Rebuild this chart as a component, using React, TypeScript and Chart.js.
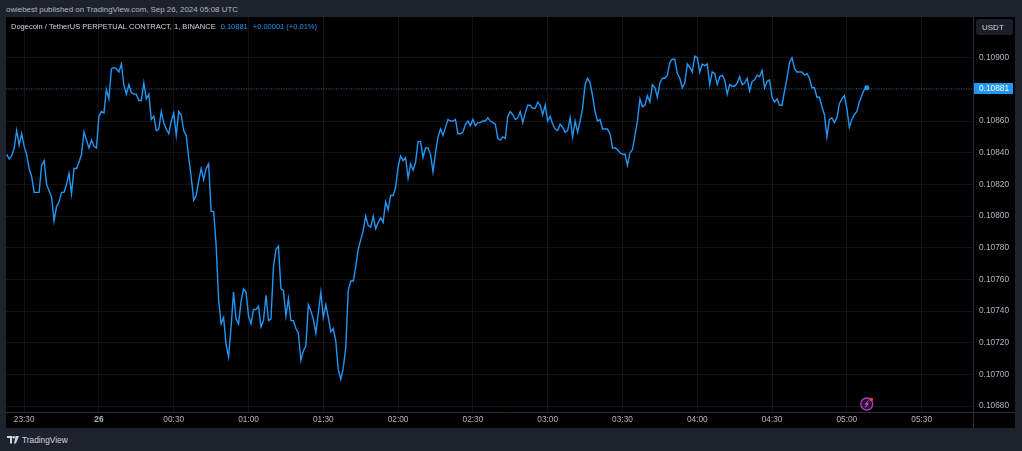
import { useEffect, useRef } from "react"
import { Chart, registerables } from "chart.js"

Chart.register(...registerables)

// 1-minute closes, DOGE/USDT perpetual, starting 23:23 UTC
const startTime = "23:23"
const prices = [
  0.10839, 0.10836, 0.10838, 0.10843, 0.10854, 0.10845, 0.10852, 0.10844, 0.10839, 0.1083,
  0.10825, 0.10815, 0.10815, 0.10815, 0.10832, 0.10835, 0.1082, 0.10816, 0.10812, 0.10797,
  0.10806, 0.10809, 0.10815, 0.10815, 0.1082, 0.10827, 0.10814, 0.1083, 0.1083, 0.10834,
  0.10839, 0.10853, 0.10848, 0.10843, 0.10848, 0.10844, 0.10843, 0.10863, 0.10866, 0.10865,
  0.1088, 0.10874, 0.10893, 0.10894, 0.10893, 0.10891, 0.10896, 0.10883, 0.10877, 0.10883,
  0.10878, 0.10877, 0.10877, 0.10873, 0.10873, 0.10884, 0.10874, 0.10877, 0.10861, 0.10863,
  0.10854, 0.10855, 0.10866, 0.10859, 0.10855, 0.10852, 0.1086, 0.10865, 0.10851, 0.10866,
  0.10864, 0.10854, 0.10851, 0.10837, 0.10825, 0.1081, 0.10813, 0.10822, 0.1083, 0.10823,
  0.1083, 0.10833, 0.10803, 0.10803, 0.10782, 0.10747, 0.10732, 0.10736, 0.10719, 0.10711,
  0.1073, 0.10752, 0.10735, 0.10732, 0.10746, 0.10754, 0.10752, 0.10737, 0.10732, 0.10741,
  0.10741, 0.10743, 0.1073, 0.10734, 0.1075, 0.10734, 0.10735, 0.10768, 0.10779, 0.10781,
  0.10754, 0.10753, 0.10737, 0.10748, 0.10734, 0.10734, 0.10729, 0.10726, 0.10709, 0.10715,
  0.10718, 0.10744, 0.1074, 0.10735, 0.10726, 0.10739, 0.10752, 0.10736, 0.10744, 0.10736,
  0.10727, 0.10729, 0.10721, 0.10703, 0.10697, 0.10704, 0.10717, 0.10753, 0.10759, 0.10759,
  0.10768, 0.10779, 0.10785, 0.10791, 0.108, 0.10794, 0.10793, 0.108, 0.10792, 0.10796,
  0.10799, 0.10796, 0.10809, 0.10804, 0.10813, 0.10813, 0.10818, 0.10831, 0.10838, 0.10835,
  0.10837, 0.10824, 0.10833, 0.10829, 0.10834, 0.10847, 0.10847, 0.10837, 0.10843, 0.10843,
  0.10839, 0.10828, 0.1084, 0.1085, 0.10855, 0.10851, 0.10856, 0.10861, 0.1086, 0.1086,
  0.10861, 0.10852, 0.10852, 0.10853, 0.10858, 0.1086, 0.10857, 0.10861, 0.10857, 0.10859,
  0.10859, 0.1086, 0.1086, 0.10862, 0.1086, 0.10859, 0.10858, 0.10849, 0.10848, 0.1085,
  0.10849, 0.10863, 0.10866, 0.10864, 0.10861, 0.10862, 0.10866, 0.10859, 0.10865, 0.1087,
  0.1087, 0.10868, 0.10868, 0.10872, 0.1087, 0.10864, 0.1087, 0.1086, 0.10863, 0.10858,
  0.10855, 0.10854, 0.10858, 0.10856, 0.10853, 0.10854, 0.10862, 0.1085, 0.1086, 0.10853,
  0.1086, 0.10868, 0.10883, 0.10887, 0.10884, 0.10876, 0.10866, 0.1086, 0.10861, 0.10855,
  0.10855, 0.10855, 0.10852, 0.10843, 0.10843, 0.10842, 0.1084, 0.10839, 0.10839, 0.10832,
  0.1084, 0.10842, 0.10851, 0.1086, 0.10874, 0.10869, 0.1087, 0.10876, 0.10872, 0.10883,
  0.10881, 0.10875, 0.10884, 0.10887, 0.10887, 0.10889, 0.10897, 0.10899, 0.10899, 0.1089,
  0.10887, 0.10881, 0.10884, 0.10896, 0.10894, 0.10891, 0.10901, 0.109, 0.10891, 0.10896,
  0.10895, 0.10896, 0.10883, 0.10891, 0.1089, 0.10883, 0.10888, 0.10889, 0.10886, 0.10877,
  0.10883, 0.10882, 0.10882, 0.10884, 0.10888, 0.10883, 0.10884, 0.10887, 0.10879, 0.10885,
  0.10886, 0.10889, 0.10888, 0.10892, 0.10881, 0.10885, 0.10886, 0.10875, 0.10872, 0.10874,
  0.1087, 0.1087, 0.10879, 0.10887, 0.10897, 0.109, 0.10893, 0.10891, 0.10891, 0.10891,
  0.10889, 0.1089, 0.10887, 0.10881, 0.10881, 0.10875, 0.10875, 0.10869, 0.10864, 0.1085,
  0.10861, 0.10862, 0.10859, 0.10862, 0.10871, 0.10874, 0.10876, 0.10868, 0.10856, 0.10861,
  0.10864, 0.10866, 0.10872, 0.10876, 0.1088, 0.10881,
]

// time axis labels every 30 minutes, first one at 23:30
const firstTickTime = "23:30"
const timeTicks = ["23:30", "26", "00:30", "01:00", "01:30", "02:00", "02:30", "03:00", "03:30", "04:00", "04:30", "05:00", "05:30"]
const priceTicks = [0.1068, 0.107, 0.1072, 0.1074, 0.1076, 0.1078, 0.108, 0.1082, 0.1084, 0.1086, 0.1088, 0.109]

const symbolTitle = "Dogecoin / TetherUS PERPETUAL CONTRACT, 1, BINANCE"
const changeText = "+0.00001 (+0.01%)"
const currency = "USDT"
const publishedText = "owiebest published on TradingView.com, Sep 26, 2024 05:08 UTC"

const FONT = "'Liberation Sans', Arial, sans-serif"
const LINE = "#2196f3"
const TEXT = "#b2b5be"
const GRID = "rgba(255,255,255,0.07)"
const SEP = "#2a2e39"

const toMin = (t: string) => {
  const [h, m] = t.split(":").map(Number)
  return h * 60 + m
}
const tickOffset = toMin(firstTickTime) - toMin(startTime)
const tickMinutes = timeTicks.map((_, i) => tickOffset + i * 30)
const lastPrice = prices[prices.length - 1]

const overlayPlugin = {
  id: "tvOverlay",
  beforeDatasetsDraw(chart: any) {
    const { ctx, chartArea } = chart
    const y = chart.scales.y.getPixelForValue(lastPrice)
    ctx.save()
    ctx.strokeStyle = "rgba(33,150,243,0.45)"
    ctx.lineWidth = 1
    ctx.setLineDash([1, 1.5])
    ctx.beginPath()
    ctx.moveTo(chartArea.left, Math.round(y) + 0.5)
    ctx.lineTo(chartArea.right, Math.round(y) + 0.5)
    ctx.stroke()
    ctx.restore()
  },
  afterDraw(chart: any) {
    const { ctx, chartArea, width, height } = chart
    ctx.save()
    // axis separators
    ctx.strokeStyle = SEP
    ctx.lineWidth = 1
    ctx.beginPath()
    ctx.moveTo(chartArea.right + 0.5, 0)
    ctx.lineTo(chartArea.right + 0.5, height)
    ctx.moveTo(0, chartArea.bottom + 0.5)
    ctx.lineTo(width, chartArea.bottom + 0.5)
    ctx.stroke()

    // legend line
    ctx.textBaseline = "middle"
    ctx.textAlign = "left"
    ctx.font = `7.5px ${FONT}`
    ctx.fillStyle = "#d1d4dc"
    let x = chartArea.left + 5
    ctx.fillText(symbolTitle, x, 10)
    x += ctx.measureText(symbolTitle).width + 5
    ctx.fillStyle = LINE
    const p = lastPrice.toFixed(5)
    ctx.fillText(p, x, 10)
    x += ctx.measureText(p).width + 5
    ctx.fillText(changeText, x, 10)

    // currency button
    const bx = chartArea.right + 3
    ctx.fillStyle = "#1c1f28"
    ctx.beginPath()
    ctx.roundRect(bx, 2, 37, 16, 3)
    ctx.fill()
    ctx.fillStyle = "#d1d4dc"
    ctx.font = `8px ${FONT}`
    ctx.fillText(currency, bx + 6, 10.5)

    // last price label
    const y = Math.round(chart.scales.y.getPixelForValue(lastPrice))
    ctx.fillStyle = LINE
    ctx.fillRect(chartArea.right + 1, y - 5, 39, 11)
    ctx.fillStyle = "#ffffff"
    ctx.font = `8.3px ${FONT}`
    ctx.fillText(p, chartArea.right + 6, y + 0.5)

    // small purple marker near the time axis
    const cx = chart.scales.x.getPixelForValue(prices.length - 1)
    const cy = chartArea.bottom - 8
    ctx.fillStyle = "rgba(156,39,176,0.3)"
    ctx.strokeStyle = "#a43cc4"
    ctx.lineWidth = 1.3
    ctx.beginPath()
    ctx.arc(cx, cy, 6, 0, Math.PI * 2)
    ctx.fill()
    ctx.stroke()
    ctx.strokeStyle = "#c26be0"
    ctx.lineWidth = 1
    ctx.beginPath()
    ctx.moveTo(cx + 1.5, cy - 3.5)
    ctx.lineTo(cx - 1.5, cy + 0.5)
    ctx.lineTo(cx + 1.5, cy - 0.5)
    ctx.lineTo(cx - 1.5, cy + 3.5)
    ctx.stroke()
    ctx.fillStyle = "#f23645"
    ctx.beginPath()
    ctx.arc(cx + 4.5, cy - 4.5, 1.8, 0, Math.PI * 2)
    ctx.fill()
    ctx.restore()
  },
}

function PriceChart() {
  const chartRef = useRef<HTMLCanvasElement>(null)
  const chartInstance = useRef<Chart | null>(null)

  useEffect(() => {
    if (!chartRef.current) return
    if (chartInstance.current) chartInstance.current.destroy()

    const ctx = chartRef.current.getContext("2d")
    if (!ctx) return

    chartInstance.current = new Chart(ctx, {
      type: "line",
      data: {
        datasets: [
          {
            data: prices.map((p, i) => ({ x: i, y: p })),
            borderColor: LINE,
            backgroundColor: LINE,
            borderWidth: 1.4,
            tension: 0,
            fill: false,
            pointRadius: (c: any) => (c.dataIndex === prices.length - 1 ? 2.5 : 0),
            pointBorderWidth: 0,
            pointHoverRadius: 0,
          },
        ],
      },
      options: {
        animation: false,
        responsive: true,
        maintainAspectRatio: false,
        layout: { padding: 0, autoPadding: false },
        plugins: { legend: { display: false }, tooltip: { enabled: false } },
        scales: {
          x: {
            type: "linear",
            min: -0.28,
            max: 387.6,
            grid: { color: GRID, drawTicks: false },
            border: { display: false },
            ticks: {
              color: TEXT,
              padding: 3,
              maxRotation: 0,
              autoSkip: false,
              font: (c: any) => ({
                family: FONT,
                size: 8.3,
                weight: c.tick && c.tick.label === "26" ? "bold" : "normal",
              }),
              callback: (v: any) => {
                const i = tickMinutes.indexOf(Number(v))
                return i >= 0 ? timeTicks[i] : ""
              },
            },
            afterBuildTicks: (s: any) => {
              s.ticks = tickMinutes.map((v) => ({ value: v }))
            },
            afterFit: (s: any) => {
              s.height = 16
              s.paddingLeft = 0
              s.paddingRight = 0
            },
          },
          y: {
            position: "right",
            min: 0.106763,
            max: 0.109257,
            grid: { color: GRID, drawTicks: false },
            border: { display: false },
            ticks: {
              color: TEXT,
              padding: 6,
              font: { family: FONT, size: 8.3 },
              callback: (v: any) => Number(v).toFixed(5),
            },
            afterBuildTicks: (s: any) => {
              s.ticks = priceTicks.map((v) => ({ value: v }))
            },
            afterFit: (s: any) => {
              s.width = 42
              s.paddingTop = 0
              s.paddingBottom = 0
            },
          },
        },
      },
      plugins: [overlayPlugin],
    } as any)

    return () => {
      if (chartInstance.current) {
        chartInstance.current.destroy()
        chartInstance.current = null
      }
    }
  }, [])

  return <canvas ref={chartRef} />
}

export default function App() {
  return (
    <div
      style={{
        position: "fixed",
        left: 0,
        top: 0,
        width: 1022,
        height: 451,
        background: "#1e222d",
        fontFamily: FONT,
        overflow: "hidden",
      }}
    >
      <div style={{ position: "absolute", left: 6, top: 5, fontSize: 7.9, lineHeight: "10px", color: TEXT }}>
        {publishedText}
      </div>
      <div style={{ position: "absolute", left: 6, top: 17, width: 1009, height: 411, background: "#000" }}>
        <PriceChart />
      </div>
      <div
        style={{
          position: "absolute",
          left: 7,
          top: 435,
          display: "flex",
          alignItems: "center",
          gap: 3,
          color: "#d1d4dc",
          fontSize: 8.3,
          lineHeight: "10px",
        }}
      >
        <svg width="12" height="8" viewBox="0 0 12 8">
          <path d="M0 0H5V7.5H3V2H0Z" fill="#d1d4dc" />
          <circle cx="6.6" cy="1.3" r="1.3" fill="#d1d4dc" />
          <path d="M8.6 0H12L8.9 7.5H6.9Z" fill="#d1d4dc" />
        </svg>
        <span>TradingView</span>
      </div>
    </div>
  )
}
